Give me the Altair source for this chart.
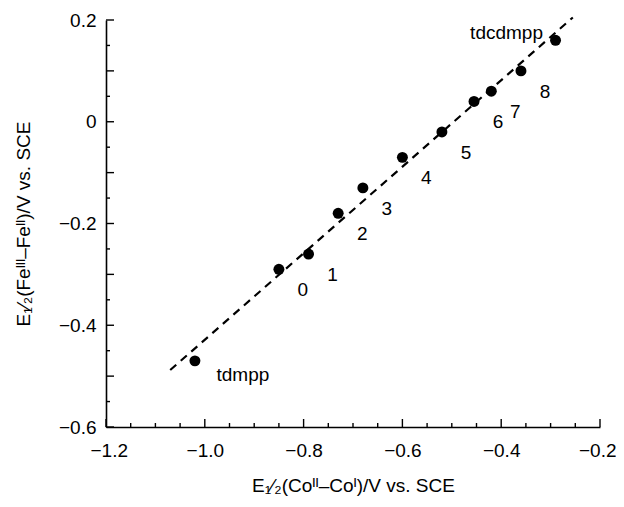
import altair as alt
import pandas as pd

# ---- data ----
labels = ["tdmpp", "0", "1", "2", "3", "4", "5", "6", "7", "8", "tdcdmpp"]
e_co = [-1.02, -0.85, -0.79, -0.73, -0.68, -0.60, -0.52, -0.455, -0.42, -0.36, -0.29]
e_fe = [-0.47, -0.29, -0.26, -0.18, -0.13, -0.07, -0.02, 0.04, 0.06, 0.10, 0.16]
fit_x = [-1.07, -0.255]
fit_y = [-0.488, 0.205]

x_major = [-1.2, -1.0, -0.8, -0.6, -0.4, -0.2]
x_minor = [-1.15, -1.1, -1.05, -0.95, -0.9, -0.85, -0.75, -0.7, -0.65,
           -0.55, -0.5, -0.45, -0.35, -0.3, -0.25]
y_major = [-0.6, -0.4, -0.2, 0.0, 0.2]
y_long = [-0.6, -0.5, -0.4, -0.3, -0.2, -0.1, 0.0, 0.1, 0.2]
y_short = [-0.55, -0.45, -0.35, -0.25, -0.15, -0.05, 0.05, 0.15]

FONT = "Liberation Sans"
W, H = 494, 407
FS = 19

pts = pd.DataFrame({"x": e_co, "y": e_fe, "label": labels})
fit = pd.DataFrame({"x": fit_x, "y": fit_y})

x_scale = alt.Scale(domain=[-1.2, -0.2], nice=False, zero=False)
y_scale = alt.Scale(domain=[-0.6, 0.2], nice=False, zero=False)

x_axis = alt.Axis(
    values=x_major,
    format=".1f",
    ticks=False,
    grid=False,
    domainColor="black", domainWidth=1.6,
    labelFont=FONT, labelFontSize=FS, labelColor="black", labelPadding=14,
    labelOverlap=False, labelFlush=True, labelFlushOffset=16,
    title="E₁⁄₂(Coᴵᴵ–Coᴵ)/V vs. SCE",
    titleFont=FONT, titleFontSize=FS, titleFontWeight="normal", titleColor="black",
    titlePadding=16,
)

y_axis = alt.Axis(
    values=y_major,
    labelExpr="datum.value == 0 ? '0' : format(datum.value, '.1f')",
    ticks=False,
    grid=False,
    domainColor="black", domainWidth=1.6,
    labelFont=FONT, labelFontSize=FS, labelColor="black", labelPadding=10,
    labelOverlap=False, labelFlush=False,
    title="E₁⁄₂(Feᴵᴵᴵ–Feᴵᴵ)/V vs. SCE",
    titleFont=FONT, titleFontSize=FS, titleFontWeight="normal", titleColor="black",
    titlePadding=25,
)

line = alt.Chart(fit).mark_line(color="black", strokeWidth=2.2, strokeDash=[8, 6]).encode(
    x=alt.X("x:Q", scale=x_scale, axis=x_axis),
    y=alt.Y("y:Q", scale=y_scale, axis=y_axis),
)

# inward ticks
def xticks(vals, length):
    return alt.Chart(pd.DataFrame({"v": vals})).mark_rule(color="black", strokeWidth=1.4).encode(
        x="v:Q", y=alt.value(H), y2=alt.value(H - length)
    )

def yticks(vals, length):
    return alt.Chart(pd.DataFrame({"v": vals})).mark_rule(color="black", strokeWidth=1.4).encode(
        y="v:Q", x=alt.value(0), x2=alt.value(length)
    )

ticks = [xticks(x_major, 8), xticks(x_minor, 4), yticks(y_long, 8), yticks(y_short, 4)]

dots = alt.Chart(pts).mark_circle(color="black", opacity=1, size=120).encode(
    x="x:Q", y="y:Q"
)

num_text = alt.Chart(pts).transform_filter(
    "datum.label != 'tdmpp' && datum.label != 'tdcdmpp'"
).mark_text(font=FONT, fontSize=FS, color="black", dx=24, dy=21).encode(
    x="x:Q", y="y:Q", text="label:N"
)

t1 = alt.Chart(pts).transform_filter("datum.label == 'tdmpp'").mark_text(
    font=FONT, fontSize=FS, color="black", dx=48, dy=14
).encode(x="x:Q", y="y:Q", text="label:N")

t2 = alt.Chart(pts).transform_filter("datum.label == 'tdcdmpp'").mark_text(
    font=FONT, fontSize=FS, color="black", dx=-49, dy=-7
).encode(x="x:Q", y="y:Q", text="label:N")

chart = alt.layer(line, *ticks, dots, num_text, t1, t2).properties(
    width=W, height=H,
    autosize=alt.AutoSizeParams(type="none"),
    padding={"left": 98, "top": 12, "right": 16, "bottom": 70},
    background="white",
).configure_view(stroke=None)

chart.save("out.html", embed_options={"renderer": "svg", "actions": False})
